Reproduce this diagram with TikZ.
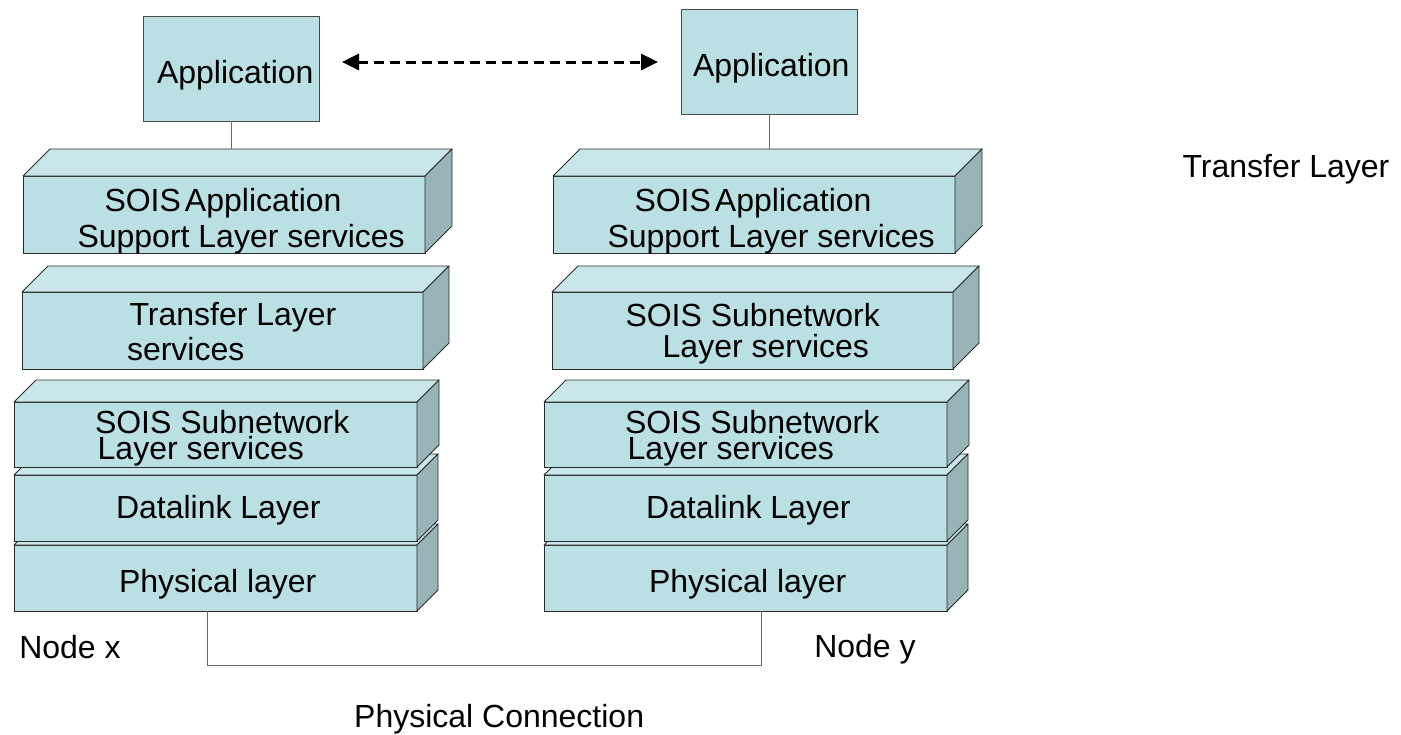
\documentclass[tikz,border=0pt]{standalone}
\usepackage{fontspec}
\setmainfont{Liberation Sans}
\usetikzlibrary{calc,arrows.meta}
\definecolor{cfront}{HTML}{BBE0E3}
\definecolor{ctop}{HTML}{C9E7EA}
\definecolor{cside}{HTML}{98B4B7}
\definecolor{cedge}{HTML}{2A2A2A}
\definecolor{cwire}{HTML}{6A6A6A}
\tikzset{
  layerface/.style={draw=cedge, line width=0.9pt, fill=cfront, rectangle, anchor=north west, inner sep=0pt, outer sep=0pt},
  layeredge/.style={draw=cedge, line width=0.9pt, line join=round},
  appbox/.style={draw=cedge!85, line width=1pt, fill=cfront, rectangle, anchor=north west, inner sep=0pt, outer sep=0pt, minimum width=176pt, minimum height=105pt},
  lbl/.style={anchor=base west, inner sep=0pt, outer sep=0pt, font=\fontsize{32}{38}\selectfont, text=black},
  wire/.style={draw=cwire, line width=1pt},
  dasharrow/.style={draw=black, line width=3pt, dash pattern=on 10pt off 6pt, {Triangle[length=17pt,width=16pt]}-{Triangle[length=17pt,width=16pt]}}
}
\newcommand\LayerBox[6]{%
  \node[layerface, minimum width=#4pt, minimum height=#5pt] (#1) at (#2,#3) {};
  \draw[layeredge, fill=ctop] (#1.north west) -- ++(#6,-#6) -- ($(#1.north east)+(#6,-#6)$) -- (#1.north east) -- cycle;
  \draw[layeredge, fill=cside] (#1.north east) -- ++(#6,-#6) -- ($(#1.south east)+(#6,-#6)$) -- (#1.south east) -- cycle;
}
\newcommand\TwoLines[3]{\vtop{\baselineskip=26pt\hbox{#1}\hbox{\kern#3pt #2}}}
\begin{document}
\begin{tikzpicture}[x=1pt,y=-1pt]
\useasboundingbox (0,0) rectangle (1401,734);

% left stack (bottom first)
\LayerBox{physL}{14}{545}{403}{66}{21}
\LayerBox{dataL}{14}{475}{403}{66}{21}
\LayerBox{subL}{14}{402}{403}{65}{22}
\LayerBox{tranL}{22}{292}{401}{77}{26}
\LayerBox{salL}{23}{176}{402}{77}{27}
% right stack
\LayerBox{physR}{544}{545}{403}{66}{21}
\LayerBox{dataR}{544}{475}{403}{66}{21}
\LayerBox{subR}{544}{402}{403}{65}{22}
\LayerBox{subtR}{552}{292}{401}{77}{26}
\LayerBox{salR}{553}{176}{402}{77}{27}

% application boxes
\node[appbox] (appL) at (143,16) {};
\node[appbox] (appR) at (681,9) {};

% connectors
\coordinate (salLtop) at ($(salL.north west)+(27,-27)$);
\coordinate (salRtop) at ($(salR.north west)+(27,-27)$);
\draw[wire] (appL.south) -- (appL.south |- salLtop);
\draw[wire] (appR.south) -- (appR.south |- salRtop);

\coordinate (pcL) at (207,665);
\coordinate (pcR) at (761,665);
\draw[wire] (physL.south -| pcL) -- (pcL) -- (pcR) -- (physR.south -| pcR);

\coordinate (arL) at (342,62);
\coordinate (arR) at (658,62);
\draw[dasharrow] (arL) -- (arR);

% texts left
\node[lbl] (tAppL) at (157,83) {Application};
\node[lbl] (tSalL1) at (104.5,211) {SOIS\hspace{4pt}Application};
\node[lbl] (tSalL2) at (77.5,247) {Support Layer services};
\node[lbl] (tTrL1) at (129.5,325) {Transfer Layer};
\node[lbl] (tTrL2) at (127,360) {services};
\node[lbl] (tSubL) at (95,433) {\TwoLines{SOIS Subnetwork}{Layer services}{2.7}};
\node[lbl] (tDataL) at (116,518) {Datalink Layer};
\node[lbl] (tPhysL) at (119,592) {Physical layer};
% texts right
\node[lbl] (tAppR) at (693,76) {Application};
\node[lbl] (tSalR1) at (634.5,211) {SOIS\hspace{4pt}Application};
\node[lbl] (tSalR2) at (607.5,247) {Support Layer services};
\node[lbl] (tSubtR1) at (625.5,326) {SOIS Subnetwork};
\node[lbl] (tSubtR2) at (662.7,357) {Layer services};
\node[lbl] (tSubR) at (625,433) {\TwoLines{SOIS Subnetwork}{Layer services}{2.7}};
\node[lbl] (tDataR) at (646,518) {Datalink Layer};
\node[lbl] (tPhysR) at (649,592) {Physical layer};
% misc
\node[lbl] (tTransfer) at (1182.5,177) {Transfer Layer};
\node[lbl] (tNodeX) at (19.3,658) {Node x};
\node[lbl] (tNodeY) at (814.3,657) {Node y};
\node[lbl] (tPhysConn) at (354.2,727) {Physical Connection};
\end{tikzpicture}
\end{document}
